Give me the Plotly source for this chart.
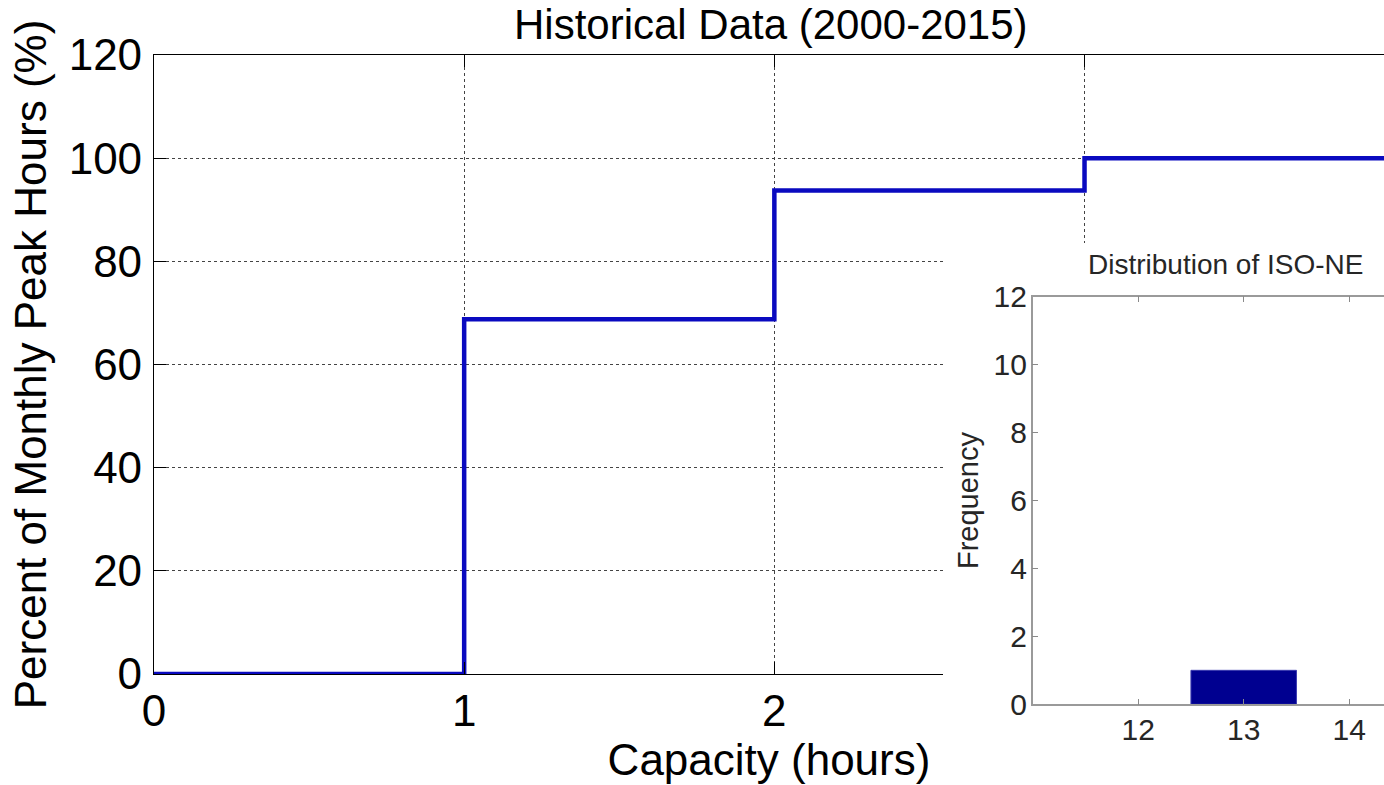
import plotly.graph_objects as go

# ---- data ----
capacity_hours = [0, 1, 2, 3, 4]
percent_peak_hours = [0, 68.75, 93.75, 100, 100]

hist_bin_centers = [13]
hist_counts = [1]

main_title = "Historical Data (2000-2015)"
main_xlabel = "Capacity (hours)"
main_ylabel = "Percent of Monthly Peak Hours (%)"
inset_title = "Distribution of ISO-NE"
inset_ylabel = "Frequency"
main_yticks = [0, 20, 40, 60, 80, 100, 120]
main_xticks = [0, 1, 2, 3]
inset_xticks = [12, 13, 14]
inset_yticks = [0, 2, 4, 6, 8, 10, 12]

W, H = 1384, 785
FONT = "Liberation Sans, Arial, sans-serif"


def px_x(v):
    return v / W


def px_y(v):
    return 1 - v / H


fig = go.Figure()

fig.add_trace(go.Scatter(
    x=capacity_hours, y=percent_peak_hours, mode="lines",
    line=dict(shape="hv", color="#0a0ac0", width=4.5),
    xaxis="x", yaxis="y", showlegend=False, hoverinfo="skip"))

# empty subplot used as white backdrop for the inset
fig.add_trace(go.Scatter(x=[], y=[], xaxis="x2", yaxis="y2", showlegend=False))

fig.add_trace(go.Bar(
    x=hist_bin_centers, y=hist_counts, width=1.0,
    marker=dict(color="#000090", line=dict(color="#3a3ab0", width=1)),
    xaxis="x3", yaxis="y3", showlegend=False, hoverinfo="skip"))

fig.update_layout(
    width=W, height=H,
    margin=dict(l=0, r=0, t=0, b=0, pad=0, autoexpand=False),
    paper_bgcolor="white", plot_bgcolor="white",
    font=dict(family=FONT, color="black"),
    showlegend=False,
    xaxis=dict(
        domain=[px_x(154), 1], anchor="y", automargin=False,
        range=[0, (1384 - 153.5) / 310.3],
        tickvals=main_xticks, ticks="inside", ticklen=12, tickcolor="black",
        showline=True, linecolor="black", linewidth=1.2, mirror="ticks",
        showgrid=True, gridcolor="#444", griddash="dot", gridwidth=1,
        zeroline=False,
        tickfont=dict(size=44, family=FONT), ticklabelstandoff=-2,
        title=dict(text=main_xlabel, font=dict(size=44, family=FONT), standoff=0),
    ),
    yaxis=dict(
        domain=[px_y(674), px_y(55)], anchor="x", automargin=False,
        range=[0, 120], tickvals=main_yticks,
        ticks="inside", ticklen=12, tickcolor="black",
        showline=True, linecolor="black", linewidth=1.2, mirror=False,
        showgrid=True, gridcolor="#444", griddash="dot", gridwidth=1,
        zeroline=False,
        tickfont=dict(size=44, family=FONT), ticklabelstandoff=2,
        title=dict(text=main_ylabel, font=dict(size=44, family=FONT), standoff=8),
    ),
    xaxis2=dict(
        domain=[px_x(943), 1], anchor="y2", range=[0, 1], automargin=False,
        showgrid=False, showline=False, zeroline=False,
        showticklabels=False, ticks="",
    ),
    yaxis2=dict(
        domain=[0, px_y(243)], anchor="x2", range=[0, 1], automargin=False,
        showgrid=False, showline=False, zeroline=False,
        showticklabels=False, ticks="",
    ),
    xaxis3=dict(
        domain=[px_x(1032.7), 1], anchor="y3", automargin=False,
        range=[11, 11 + (1384 - 1032.7) / 105.5],
        tickvals=inset_xticks, ticks="inside", ticklen=6, tickcolor="#8a8a8a",
        showline=True, linecolor="#9a9a9a", linewidth=1.5, mirror="ticks",
        showgrid=False, zeroline=False,
        tickfont=dict(size=30, family=FONT, color="#262626"), ticklabelstandoff=-2,
    ),
    yaxis3=dict(
        domain=[px_y(704.3), px_y(296.7)], anchor="x3", automargin=False,
        range=[0, 12], tickvals=inset_yticks,
        ticks="inside", ticklen=6, tickcolor="#8a8a8a",
        showline=True, linecolor="#9a9a9a", linewidth=1.5, mirror=False,
        showgrid=False, zeroline=False,
        tickfont=dict(size=30, family=FONT, color="#262626"), ticklabelstandoff=-2,
        title=dict(text=inset_ylabel, font=dict(size=29, family=FONT, color="#262626"), standoff=6),
    ),
    annotations=[
        dict(text=main_title, xref="paper", yref="paper",
             x=px_x(771), y=px_y(25), xanchor="center", yanchor="middle",
             showarrow=False, font=dict(size=42, family=FONT, color="black")),
        dict(text=inset_title, xref="paper", yref="paper",
             x=px_x(1086), y=px_y(265), xanchor="left", yanchor="middle",
             showarrow=False, font=dict(size=28, family=FONT, color="#262626")),
    ],
)

fig.write_html("out.html")
